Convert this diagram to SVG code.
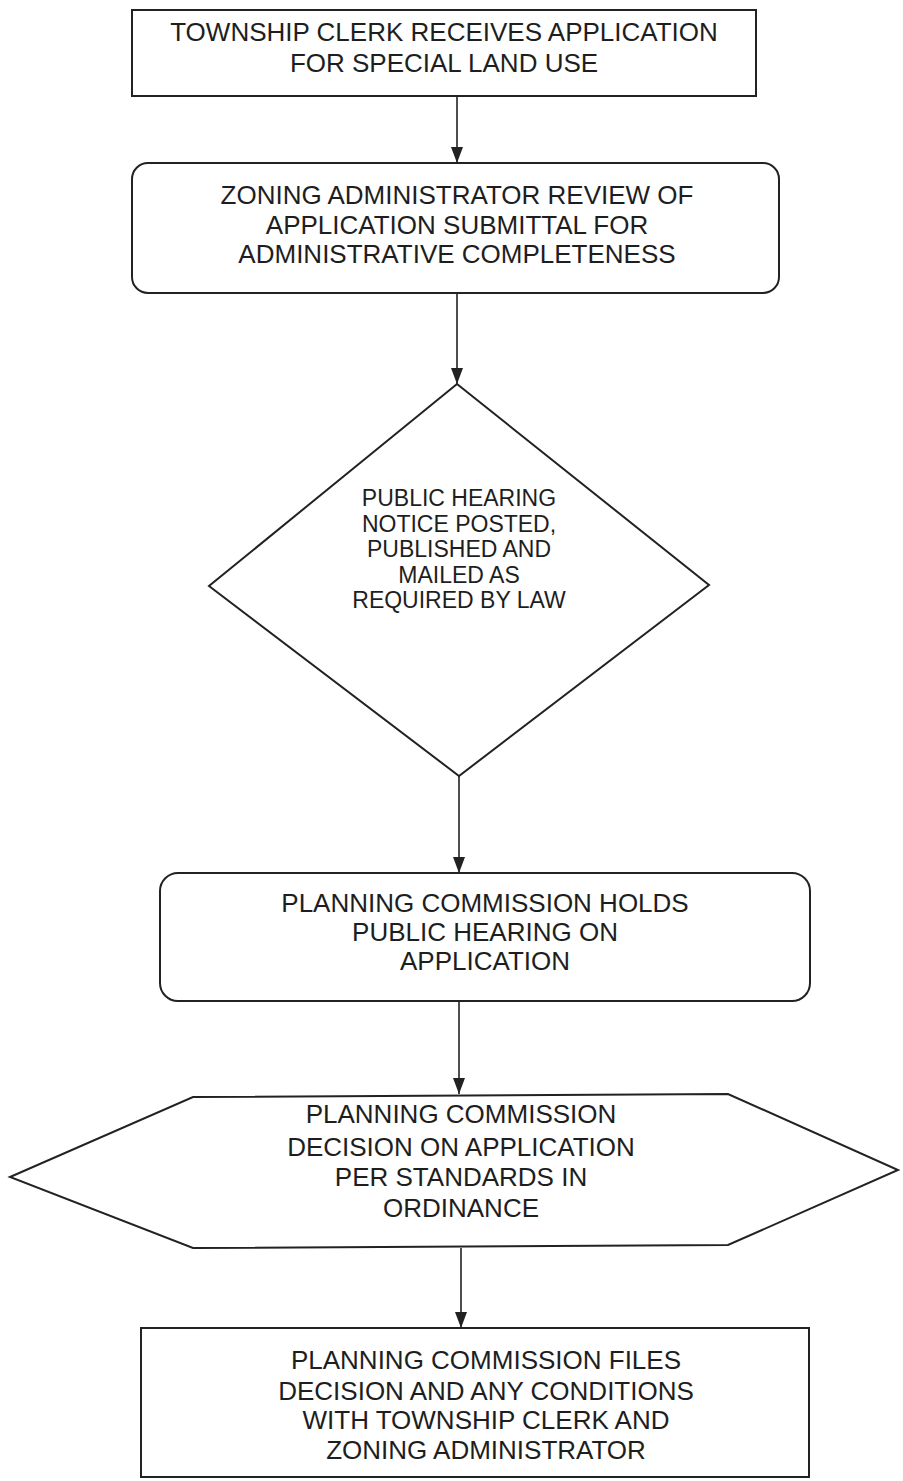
<svg xmlns="http://www.w3.org/2000/svg" width="903" height="1481" viewBox="0 0 903 1481">
<style>
.shape{fill:#fff;stroke:#222;stroke-width:2}
.t{font-family:"Liberation Sans",Arial,sans-serif;font-size:26px;fill:#1e1e1e;text-anchor:middle}
.ts{font-family:"Liberation Sans",Arial,sans-serif;font-size:23px;fill:#1e1e1e;text-anchor:middle}
.edge{stroke:#222;stroke-width:1.6;fill:none;marker-end:url(#ah)}
</style>
<defs>
<marker id="ah" viewBox="0 0 16 12" refX="16" refY="6" markerWidth="16" markerHeight="12" markerUnits="userSpaceOnUse" orient="auto">
<path d="M0,0 L16,6 L0,12 z" fill="#222"/>
</marker>
</defs>
<rect width="903" height="1481" fill="#fff"/>
<g id="connectors">
<line class="edge" x1="457" y1="96" x2="457" y2="163"/>
<line class="edge" x1="457" y1="293" x2="457" y2="384"/>
<line class="edge" x1="459" y1="776" x2="459" y2="873"/>
<line class="edge" x1="459" y1="1001" x2="459" y2="1094"/>
<line class="edge" x1="461" y1="1248" x2="461" y2="1328"/>
</g>
<g id="n1">
<rect class="shape" x="132" y="10" width="624" height="86"/>
<text class="t" x="444" y="41">TOWNSHIP CLERK RECEIVES APPLICATION</text>
<text class="t" x="444" y="72">FOR SPECIAL LAND USE</text>
</g>
<g id="n2">
<rect class="shape" x="132" y="163" width="647" height="130" rx="16"/>
<text class="t" x="457" y="204">ZONING ADMINISTRATOR REVIEW OF</text>
<text class="t" x="457" y="234">APPLICATION SUBMITTAL FOR</text>
<text class="t" x="457" y="263">ADMINISTRATIVE COMPLETENESS</text>
</g>
<g id="n3">
<polygon class="shape" points="457,384 709,585 459,776 209,586"/>
<text class="ts" x="459" y="506">PUBLIC HEARING</text>
<text class="ts" x="459" y="532">NOTICE POSTED,</text>
<text class="ts" x="459" y="557">PUBLISHED AND</text>
<text class="ts" x="459" y="583">MAILED AS</text>
<text class="ts" x="459" y="608">REQUIRED BY LAW</text>
</g>
<g id="n4">
<rect class="shape" x="160" y="873" width="650" height="128" rx="18"/>
<text class="t" x="485" y="912">PLANNING COMMISSION HOLDS</text>
<text class="t" x="485" y="941">PUBLIC HEARING ON</text>
<text class="t" x="485" y="970">APPLICATION</text>
</g>
<g id="n5">
<polygon class="shape" points="193,1097 728,1094 898,1170 728,1245 193,1248 10,1177"/>
<text class="t" x="461" y="1123">PLANNING COMMISSION</text>
<text class="t" x="461" y="1156">DECISION ON APPLICATION</text>
<text class="t" x="461" y="1186">PER STANDARDS IN</text>
<text class="t" x="461" y="1217">ORDINANCE</text>
</g>
<g id="n6">
<rect class="shape" x="141" y="1328" width="668" height="149"/>
<text class="t" x="486" y="1369">PLANNING COMMISSION FILES</text>
<text class="t" x="486" y="1400">DECISION AND ANY CONDITIONS</text>
<text class="t" x="486" y="1429">WITH TOWNSHIP CLERK AND</text>
<text class="t" x="486" y="1459">ZONING ADMINISTRATOR</text>
</g>
</svg>
